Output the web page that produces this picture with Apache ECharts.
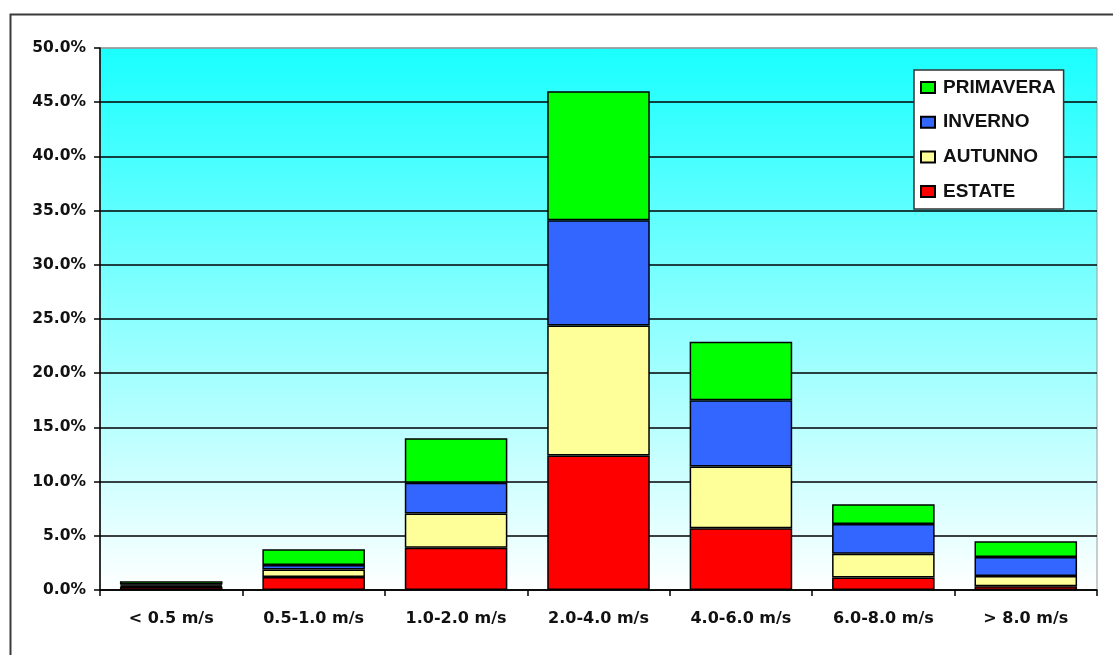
<!DOCTYPE html>
<html>
<head>
<meta charset="utf-8">
<title>Distribuzione velocità del vento per stagione</title>
<script src="https://cdn.jsdelivr.net/npm/echarts@6/dist/echarts.min.js"></script>
<style>
  html, body { margin: 0; padding: 0; background: #ffffff; }
  #chart { width: 1113px; height: 655px; }
</style>
</head>
<body>
<div id="chart"></div>
<script>
// Wind speed classes
const categories = ['< 0.5 m/s', '0.5-1.0 m/s', '1.0-2.0 m/s', '2.0-4.0 m/s', '4.0-6.0 m/s', '6.0-8.0 m/s', '> 8.0 m/s'];

// Frequency (%) per season, stacked bottom to top
const estate    = [0.3, 1.2, 3.9, 12.4, 5.7, 1.15, 0.35];
const autunno   = [0.1, 0.7, 3.15, 12.0, 5.7, 2.2, 0.95];
const inverno   = [0.1, 0.4, 2.85, 9.7, 6.1, 2.75, 1.75];
const primavera = [0.3, 1.45, 4.1, 11.9, 5.4, 1.8, 1.45];

// Value axis range
const yMin = 0;
const yMax = 50;
const yStep = 5;

const axisFont = 'DejaVu Sans';
const legendFont = 'Liberation Sans';

const chart = echarts.init(document.getElementById('chart'), null, { renderer: 'canvas' });

function seasonSeries(name, data, color) {
  return {
    name: name,
    type: 'bar',
    stack: 'total',
    data: data,
    barCategoryGap: '28%',
    itemStyle: { color: color, borderColor: '#000000', borderWidth: 1.5 },
    emphasis: { disabled: true }
  };
}

// Split lines: black, with the top one drawn light grey as the plot frame
const splitColors = [];
for (let v = yMin; v <= yMax; v += yStep) splitColors.push(v === yMax ? '#9a9a9a' : '#000000');

chart.setOption({
  animation: false,
  graphic: [{
    type: 'rect',
    left: 8, top: 12,
    shape: { x: 0, y: 0, width: 1130, height: 700 },
    style: { fill: 'none', stroke: '#3a3a3a', lineWidth: 2 },
    silent: true
  }],
  grid: {
    left: 100, top: 48, right: 16, bottom: 65,
    show: true,
    borderColor: '#9a9a9a',
    borderWidth: 1,
    backgroundColor: {
      type: 'linear', x: 0, y: 0, x2: 0, y2: 1,
      colorStops: [
        { offset: 0, color: '#19ffff' },
        { offset: 1, color: '#ffffff' }
      ]
    }
  },
  legend: {
    orient: 'vertical',
    left: 914, top: 70,
    data: ['PRIMAVERA', 'INVERNO', 'AUTUNNO', 'ESTATE'],
    backgroundColor: '#ffffff',
    borderColor: '#333333',
    borderWidth: 1.5,
    padding: [8, 8, 8, 6],
    itemGap: 15.7,
    itemWidth: 14,
    itemHeight: 11,
    icon: 'rect',
    selectedMode: false,
    textStyle: {
      fontFamily: legendFont, fontWeight: 'bold', fontSize: 19,
      color: '#111111', padding: [0, 0, 0, 3]
    }
  },
  xAxis: {
    type: 'category',
    data: categories,
    axisLine: { show: true, lineStyle: { color: '#000000', width: 1.5 } },
    axisTick: { show: true, length: 6, lineStyle: { color: '#000000', width: 1.5 } },
    axisLabel: {
      margin: 21,
      fontFamily: axisFont, fontWeight: 'bold', fontSize: 16, color: '#111111'
    },
    splitLine: { show: false }
  },
  yAxis: {
    type: 'value',
    min: yMin, max: yMax, interval: yStep,
    axisLine: { show: true, lineStyle: { color: '#000000', width: 1.5 } },
    axisTick: { show: true, length: 6, lineStyle: { color: '#000000', width: 1.5 } },
    axisLabel: {
      margin: 14,
      fontFamily: axisFont, fontWeight: 'bold', fontSize: 15.5, color: '#111111',
      formatter: v => v.toFixed(1) + '%'
    },
    splitLine: { show: true, lineStyle: { color: splitColors, width: 1.5 } }
  },
  series: [
    seasonSeries('ESTATE', estate, '#ff0000'),
    seasonSeries('AUTUNNO', autunno, '#ffff99'),
    seasonSeries('INVERNO', inverno, '#3366ff'),
    seasonSeries('PRIMAVERA', primavera, '#00ff00')
  ]
});
</script>
</body>
</html>
